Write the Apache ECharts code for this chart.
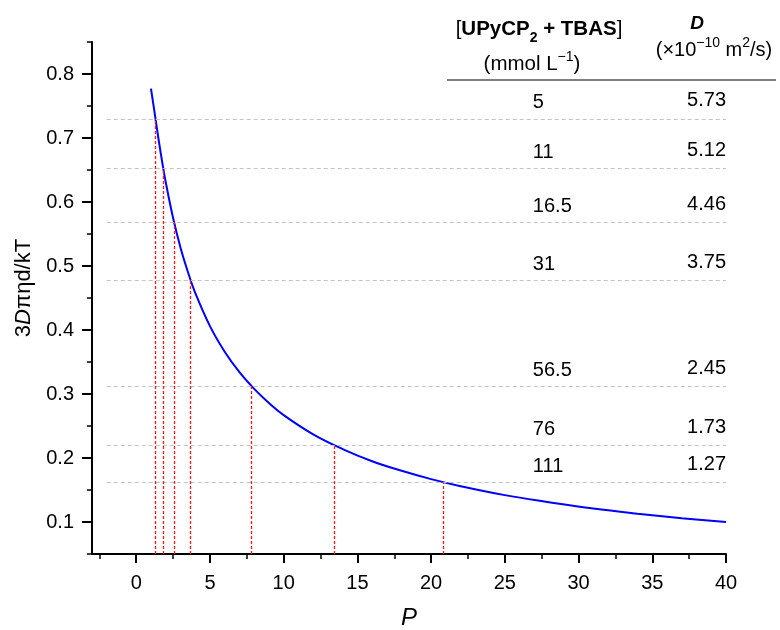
<!DOCTYPE html>
<html>
<head>
<meta charset="utf-8">
<script src="https://cdn.jsdelivr.net/npm/echarts@6/dist/echarts.min.js"></script>
<style>
html, body { margin: 0; padding: 0; background: #ffffff; }
#chart { width: 780px; height: 630px; }
</style>
</head>
<body>
<div id="chart"></div>
<script>
// ---- data ----
const curveP = [1, 1.25, 1.5, 1.75, 2, 2.5, 3, 3.5, 4, 5, 6, 7, 8, 9, 10, 12, 14, 16, 18, 20, 22, 25, 28, 31, 34, 37, 40];
const curveY = [0.777, 0.739, 0.700, 0.664, 0.631, 0.575, 0.529, 0.491, 0.458, 0.406, 0.366, 0.334, 0.308, 0.286, 0.267, 0.237, 0.214, 0.195, 0.180, 0.167, 0.156, 0.142, 0.131, 0.121, 0.113, 0.106, 0.100];
const concentrations = ['5', '11', '16.5', '31', '56.5', '76', '111'];
const dValues = ['5.73', '5.12', '4.46', '3.75', '2.45', '1.73', '1.27'];
const rowY = [0.730, 0.652, 0.568, 0.478, 0.312, 0.220, 0.162];
const rowP = [1.27, 1.83, 2.57, 3.69, 7.80, 13.4, 20.8];
const xTicks = [0, 5, 10, 15, 20, 25, 30, 35, 40];
const xMinorTicks = [-2.5, 2.5, 7.5, 12.5, 17.5, 22.5, 27.5, 32.5, 37.5];
const yTicks = [0.1, 0.2, 0.3, 0.4, 0.5, 0.6, 0.7, 0.8];
const yMinorTicks = [0.05, 0.15, 0.25, 0.35, 0.45, 0.55, 0.65, 0.75, 0.85];

// ---- layout / style constants ----
const FONT = "'Liberation Sans', Arial, Helvetica, sans-serif";
const X_MIN = -3, X_MAX = 40, Y_MIN = 0.05, Y_MAX = 0.85;
const GUIDE_START = -2;
const COL1_X = 26.9, COL2_X = 40;

const chart = echarts.init(document.getElementById('chart'), null, { renderer: 'canvas' });

const axisLineStyle = { color: '#000', width: 2 };

function segLine(a, b) {
  return [{ coord: a }, { coord: b }];
}

const option = {
  backgroundColor: '#ffffff',
  animation: false,
  textStyle: { fontFamily: FONT },
  grid: { left: 92, right: 54, top: 42, bottom: 76, containLabel: false, outerBoundsMode: 'none' },
  xAxis: [
    {
      type: 'value', min: X_MIN, max: X_MAX, position: 'bottom',
      axisLine: { show: true, onZero: false, lineStyle: axisLineStyle },
      axisTick: { show: true, inside: false, length: 9, customValues: xTicks, lineStyle: { color: '#000', width: 2 } },
      axisLabel: { show: true, customValues: xTicks, fontSize: 20, color: '#000', margin: 19, fontFamily: FONT },
      splitLine: { show: false },
      name: 'P', nameLocation: 'middle', nameGap: 52,
      nameTextStyle: { fontSize: 24, fontStyle: 'italic', color: '#000', fontFamily: FONT }
    },
    {
      type: 'value', min: X_MIN, max: X_MAX, position: 'bottom',
      axisLine: { show: false, onZero: false },
      axisTick: { show: true, inside: false, length: 5, customValues: xMinorTicks, lineStyle: { color: '#000', width: 1.5 } },
      axisLabel: { show: false },
      splitLine: { show: false }
    }
  ],
  yAxis: [
    {
      type: 'value', min: Y_MIN, max: Y_MAX, position: 'left',
      axisLine: { show: true, onZero: false, lineStyle: axisLineStyle },
      axisTick: { show: true, inside: false, length: 10, customValues: yTicks, lineStyle: { color: '#000', width: 2 } },
      axisLabel: { show: true, customValues: yTicks, fontSize: 20, color: '#000', margin: 18, fontFamily: FONT,
        formatter: v => v.toFixed(1) },
      splitLine: { show: false },
      name: '{n|3}{i|D}{n|πηd/kT}', nameLocation: 'middle', nameGap: 56, nameRotate: 90,
      nameTextStyle: {
        color: '#000', fontSize: 22, fontFamily: FONT, padding: [0, 0, 0, 20],
        rich: {
          n: { fontSize: 22, fontFamily: FONT, color: '#000' },
          i: { fontSize: 22, fontFamily: FONT, fontStyle: 'italic', color: '#000' }
        }
      }
    },
    {
      type: 'value', min: Y_MIN, max: Y_MAX, position: 'left',
      axisLine: { show: false, onZero: false },
      axisTick: { show: true, inside: false, length: 5, customValues: yMinorTicks, lineStyle: { color: '#000', width: 1.5 } },
      axisLabel: { show: false },
      splitLine: { show: false }
    }
  ],
  series: [
    {
      name: 'guides', type: 'line', xAxisIndex: 0, yAxisIndex: 0, data: [], z: 1,
      markLine: {
        silent: true, symbol: ['none', 'none'], animation: false,
        label: { show: false },
        emphasis: { disabled: true },
        lineStyle: { color: '#c4c4c4', width: 1, type: [4, 3] },
        data: rowY.map(y => segLine([GUIDE_START, y], [X_MAX, y]))
      }
    },
    {
      name: 'drops', type: 'line', xAxisIndex: 0, yAxisIndex: 0, data: [], z: 2,
      markLine: {
        silent: true, symbol: ['none', 'none'], animation: false,
        label: { show: false },
        emphasis: { disabled: true },
        lineStyle: { color: '#ff1a1a', width: 1.3, type: [3, 2] },
        data: rowP.map((p, i) => segLine([p, Y_MIN], [p, rowY[i]]))
      }
    },
    {
      name: 'curve', type: 'line', xAxisIndex: 0, yAxisIndex: 0, z: 3,
      smooth: 0.4, showSymbol: false, symbol: 'none',
      lineStyle: { color: '#0000ff', width: 2 },
      data: curveP.map((p, i) => [p, curveY[i]])
    },
    {
      name: 'concentration', type: 'scatter', xAxisIndex: 0, yAxisIndex: 0, z: 4,
      symbolSize: 0, silent: true, itemStyle: { opacity: 1 },
      label: { show: true, position: 'top', distance: 6, align: 'left', fontSize: 20, color: '#000', opacity: 1, fontFamily: FONT,
        formatter: p => concentrations[p.dataIndex] },
      data: rowY.map(y => [COL1_X, y])
    },
    {
      name: 'D', type: 'scatter', xAxisIndex: 0, yAxisIndex: 0, z: 4,
      symbolSize: 0, silent: true, itemStyle: { opacity: 1 },
      label: { show: true, position: 'top', distance: 8, align: 'right', fontSize: 20, color: '#000', opacity: 1, fontFamily: FONT,
        formatter: p => dValues[p.dataIndex] },
      data: rowY.map(y => [COL2_X, y])
    }
  ],
  graphic: [
    {
      type: 'text', x: 539, y: 29, silent: true,
      style: {
        text: '{n|[}{b|UPyCP}{s|2}{b| + TBAS}{n|]}',
        align: 'center', verticalAlign: 'middle', textAlign: 'center', textVerticalAlign: 'middle',
        fill: '#000', fontSize: 20.5, fontFamily: FONT,
        rich: {
          n: { fontSize: 20.5, fontFamily: FONT, fill: '#000', color: '#000', lineHeight: 22 },
          b: { fontSize: 20.5, fontFamily: FONT, fontWeight: 'bold', fill: '#000', color: '#000', lineHeight: 22 },
          s: { fontSize: 14, fontFamily: FONT, fontWeight: 'bold', fill: '#000', color: '#000', lineHeight: 22, padding: [18, 0, 0, 0] }
        }
      }
    },
    {
      type: 'text', x: 532, y: 64, silent: true,
      style: {
        text: '{n|(mmol L}{p|−1}{n|)}',
        align: 'center', verticalAlign: 'middle', textAlign: 'center', textVerticalAlign: 'middle',
        fill: '#000', fontSize: 20.5, fontFamily: FONT,
        rich: {
          n: { fontSize: 20.5, fontFamily: FONT, fill: '#000', color: '#000', lineHeight: 22 },
          p: { fontSize: 14, fontFamily: FONT, fill: '#000', color: '#000', lineHeight: 22, padding: [0, 0, 13, 0] }
        }
      }
    },
    {
      type: 'text', x: 697, y: 24, silent: true,
      style: {
        text: 'D',
        align: 'center', verticalAlign: 'middle', textAlign: 'center', textVerticalAlign: 'middle',
        fill: '#000', fontSize: 19, fontFamily: FONT, fontWeight: 'bold', fontStyle: 'italic'
      }
    },
    {
      type: 'text', x: 714, y: 50, silent: true,
      style: {
        text: '{n|(×10}{p|−10}{n| m}{p|2}{n|/s)}',
        align: 'center', verticalAlign: 'middle', textAlign: 'center', textVerticalAlign: 'middle',
        fill: '#000', fontSize: 20, fontFamily: FONT,
        rich: {
          n: { fontSize: 20, fontFamily: FONT, fill: '#000', color: '#000', lineHeight: 22 },
          p: { fontSize: 14, fontFamily: FONT, fill: '#000', color: '#000', lineHeight: 22, padding: [0, 0, 13, 0] }
        }
      }
    },
    {
      type: 'line', silent: true,
      shape: { x1: 447, y1: 80, x2: 776, y2: 80 },
      style: { stroke: '#555555', lineWidth: 1.5 }
    }
  ]
};

chart.setOption(option);
</script>
</body>
</html>
